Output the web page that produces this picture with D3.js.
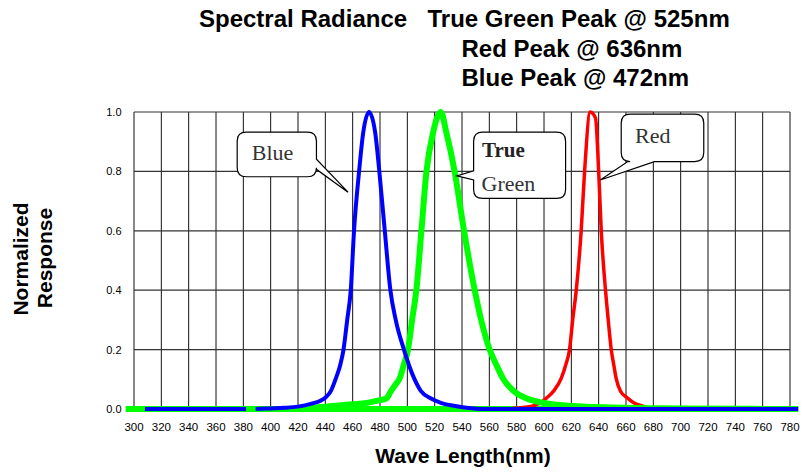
<!DOCTYPE html>
<html>
<head>
<meta charset="utf-8">
<script src="https://cdn.jsdelivr.net/npm/d3@7"></script>
<style>
  body { margin: 0; background: #fff; }
  svg { display: block; }
</style>
</head>
<body>
<div id="vis"></div>
<script>
// Chart values
var xTicks = d3.range(300, 781, 20);
var yTicks = [0, 0.2, 0.4, 0.6, 0.8, 1.0];

// Blue has a small break in its zero line around 385nm (null = gap)
var blueWave = [308, 382, 385, 389, 400, 410, 420, 430, 436, 440, 444, 447.7, 451, 453.3, 456, 458.6, 461, 464.7, 467.7, 472,
  476.5, 479.5, 483.5, 487.6, 491.5, 497.5, 505, 510, 517, 525, 535, 545, 555, 786];
var blueResp = [0, 0, null, 0, 0.002, 0.004, 0.008, 0.018, 0.027, 0.038, 0.06, 0.103, 0.15, 0.2, 0.3, 0.4, 0.6, 0.8, 0.93, 1.0,
  0.93, 0.8, 0.6, 0.4, 0.3, 0.2, 0.103, 0.06, 0.036, 0.02, 0.01, 0.003, 0, 0];

var greenWave = [294, 420, 430, 440, 450, 460, 470, 475, 480, 484.7, 488, 491, 494.4, 497.5, 500.5, 503.5, 506.6, 510.3, 514, 518.8, 524.5,
  528.6, 534.6, 541.5, 549.3, 554, 560.2, 565, 570, 578, 587, 600, 620, 650, 700, 786];
var greenResp = [0, 0, 0.004, 0.008, 0.012, 0.016, 0.02, 0.025, 0.03, 0.036, 0.06, 0.08, 0.103, 0.15, 0.2, 0.3, 0.4, 0.6, 0.8, 0.93, 1.0,
  0.93, 0.8, 0.6, 0.4, 0.3, 0.2, 0.15, 0.103, 0.06, 0.036, 0.02, 0.01, 0.005, 0.002, 0];

var redWave = [575, 580, 586, 592, 597, 601.6, 607, 612.6, 616, 618.7, 621, 623.6, 627.2, 629.7, 633.8, 637.7,
  640, 641.9, 645, 647, 649.2, 651, 652.8, 656, 661.4, 666, 672.3, 678];
var redResp = [0, 0.003, 0.006, 0.01, 0.02, 0.036, 0.06, 0.103, 0.15, 0.2, 0.3, 0.4, 0.6, 0.8, 1.0, 0.98,
  0.8, 0.6, 0.4, 0.3, 0.2, 0.15, 0.103, 0.06, 0.036, 0.02, 0.01, 0];

var titleLines = ['Spectral Radiance', 'True Green Peak @ 525nm', 'Red Peak @ 636nm', 'Blue Peak @ 472nm'];

// Callout boxes, in data units (nm / response)
var callouts = [
  { lines: ['Blue'], box: [375.5, 433.5, 0.932, 0.782], side: 'right', base: [0.841, 0.807], tip: [456.6, 0.73] },
  { lines: ['True', 'Green'], box: [548.5, 615.8, 0.932, 0.709], side: 'left', base: [0.802, 0.771], tip: [536.3, 0.785] },
  { lines: ['Red'], box: [656.5, 716.9, 0.993, 0.833], side: 'bottom', base: [661.3, 680.8], tip: [641.2, 0.771] }
];

var width = 801;
var height = 473;

var x = d3.scaleLinear().domain([300, 780]).range([134, 790]);
var y = d3.scaleLinear().domain([0, 1]).range([409, 112]);

var svg = d3.select('#vis').append('svg')
  .attr('width', width)
  .attr('height', height);

// grid
svg.append('g').selectAll('line.v')
  .data(xTicks).enter().append('line')
  .attr('x1', function (d) { return x(d); })
  .attr('x2', function (d) { return x(d); })
  .attr('y1', y(1)).attr('y2', y(0))
  .attr('stroke', '#111').attr('stroke-width', 1);

svg.append('g').selectAll('line.h')
  .data(yTicks).enter().append('line')
  .attr('x1', x(300)).attr('x2', x(780))
  .attr('y1', function (d) { return y(d); })
  .attr('y2', function (d) { return y(d); })
  .attr('stroke', '#333').attr('stroke-width', 1.2);

// tick labels
svg.append('g').selectAll('text')
  .data(yTicks).enter().append('text')
  .attr('x', 121.5)
  .attr('y', function (d) { return y(d) + 4; })
  .attr('text-anchor', 'end')
  .style('font', '11px "Liberation Sans", Arial, sans-serif')
  .text(function (d) { return d.toFixed(1); });

svg.append('g').selectAll('text')
  .data(xTicks).enter().append('text')
  .attr('x', function (d) { return x(d); })
  .attr('y', 431)
  .attr('text-anchor', 'middle')
  .style('font', '11.5px "Liberation Sans", Arial, sans-serif')
  .text(function (d) { return d; });

// green base line along zero
svg.append('line')
  .attr('x1', x(294)).attr('x2', x(786))
  .attr('y1', y(0)).attr('y2', y(0))
  .attr('stroke', '#00ff00').attr('stroke-width', 6);

function series(wave, resp) {
  return wave.map(function (w, i) { return { w: w, v: resp[i] }; });
}

var line = d3.line()
  .defined(function (d) { return d.v !== null; })
  .x(function (d) { return x(d.w); })
  .y(function (d) { return y(d.v); })
  .curve(d3.curveMonotoneX);

svg.append('path').datum(series(redWave, redResp))
  .attr('d', line).attr('fill', 'none')
  .attr('stroke', '#ff0000').attr('stroke-width', 3.5).attr('stroke-linejoin', 'round');

svg.append('path').datum(series(greenWave, greenResp))
  .attr('d', line).attr('fill', 'none')
  .attr('stroke', '#00ff00').attr('stroke-width', 6).attr('stroke-linejoin', 'round');

svg.append('path').datum(series(blueWave, blueResp))
  .attr('d', line).attr('fill', 'none')
  .attr('stroke', '#0000ff').attr('stroke-width', 4).attr('stroke-linejoin', 'round');

// callouts: rounded box with a pointer
function calloutPath(c) {
  var x0 = x(c.box[0]), x1 = x(c.box[1]), y0 = y(c.box[2]), y1 = y(c.box[3]);
  var r = 9;
  var tx = x(c.tip[0]), ty = y(c.tip[1]);
  var p = d3.path();
  p.moveTo(x0 + r, y0);
  p.lineTo(x1 - r, y0);
  p.quadraticCurveTo(x1, y0, x1, y0 + r);
  if (c.side === 'right') {
    p.lineTo(x1, y(c.base[0]));
    p.lineTo(tx, ty);
    p.lineTo(x1, y(c.base[1]));
  }
  p.lineTo(x1, y1 - r);
  p.quadraticCurveTo(x1, y1, x1 - r, y1);
  if (c.side === 'bottom') {
    p.lineTo(x(c.base[1]), y1);
    p.lineTo(tx, ty);
    p.lineTo(x(c.base[0]), y1);
  }
  p.lineTo(x0 + r, y1);
  p.quadraticCurveTo(x0, y1, x0, y1 - r);
  if (c.side === 'left') {
    p.lineTo(x0, y(c.base[1]));
    p.lineTo(tx, ty);
    p.lineTo(x0, y(c.base[0]));
  }
  p.lineTo(x0, y0 + r);
  p.quadraticCurveTo(x0, y0, x0 + r, y0);
  p.closePath();
  return p.toString();
}

var co = svg.append('g').selectAll('g')
  .data(callouts).enter().append('g');

co.append('path')
  .attr('d', calloutPath)
  .attr('fill', '#fff')
  .attr('stroke', '#000')
  .attr('stroke-width', 1.2);

// callout texts
svg.append('text').attr('x', 272.5).attr('y', 159.5).attr('text-anchor', 'middle')
  .style('font', '22px "Liberation Serif", "Times New Roman", serif').attr('fill', '#333')
  .text(callouts[0].lines[0]);
svg.append('text').attr('x', 482).attr('y', 157)
  .style('font', 'bold 21px "Liberation Serif", "Times New Roman", serif').attr('fill', '#222')
  .text(callouts[1].lines[0]);
svg.append('text').attr('x', 481.5).attr('y', 191)
  .style('font', '22px "Liberation Serif", "Times New Roman", serif').attr('fill', '#333')
  .text(callouts[1].lines[1]);
svg.append('text').attr('x', 635).attr('y', 142.5)
  .style('font', '22px "Liberation Serif", "Times New Roman", serif').attr('fill', '#333')
  .text(callouts[2].lines[0]);

// titles
var titleFont = 'bold 24px "Liberation Sans", Arial, sans-serif';
svg.append('text').attr('x', 199).attr('y', 27).style('font', titleFont).text(titleLines[0]);
svg.append('text').attr('x', 427.5).attr('y', 27).style('font', titleFont).text(titleLines[1]);
svg.append('text').attr('x', 461.5).attr('y', 56.5).style('font', titleFont).text(titleLines[2]);
svg.append('text').attr('x', 461.5).attr('y', 86).style('font', titleFont).text(titleLines[3]);

// axis titles
var axisFont = 'bold 21px "Liberation Sans", Arial, sans-serif';
svg.append('text').attr('x', 463).attr('y', 463).attr('text-anchor', 'middle')
  .style('font', axisFont).text('Wave Length(nm)');
svg.append('text').attr('transform', 'translate(28,259) rotate(-90)').attr('text-anchor', 'middle')
  .style('font', axisFont).text('Normalized');
svg.append('text').attr('transform', 'translate(52,258) rotate(-90)').attr('text-anchor', 'middle')
  .style('font', axisFont).text('Response');
</script>
</body>
</html>
